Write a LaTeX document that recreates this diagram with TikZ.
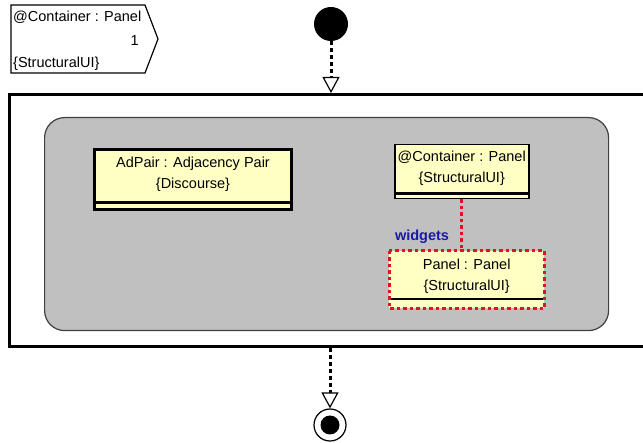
\documentclass[tikz,border=0pt]{standalone}
\usepackage{fontspec}
\setmainfont{Liberation Sans}
\usetikzlibrary{arrows.meta}
\definecolor{regiongrey}{HTML}{C0C0C0}
\definecolor{classyellow}{HTML}{FFFFC4}
\definecolor{linkred}{HTML}{E0141E}
\definecolor{roleblue}{HTML}{1A1AA6}
\tikzset{
  classbox/.style={draw=black, fill=classyellow, rectangle, inner sep=0pt},
  classtext/.style={align=center, inner sep=0pt, font=\fontsize{14.5}{21}\selectfont},
  flowline/.style={line width=3, dash pattern=on 4 off 3,
    -{Triangle[open, length=16, width=17, line width=1.2, fill=white]}},
  reflink/.style={linkred, line width=3, dash pattern=on 3.5 off 3},
}
\begin{document}
\begin{tikzpicture}[x=1pt, y=-1pt, font=\fontsize{14.5}{21}\selectfont]
\useasboundingbox (0,0) rectangle (643,443);

% object pin of the activity parameter
\draw[line width=1.2, fill=white] (11,5) -- (145,5) -- (158,39) -- (145,73) -- (11,73) -- cycle;
\node[anchor=west, inner sep=0pt] (pinname) at (13,17) {@Container : Panel};
\node[anchor=east, inner sep=0pt] (pinmult) at (139,41) {1};
\node[anchor=west, inner sep=0pt] (pinstereo) at (13,64) {\{StructuralUI\}};

% activity frame, open to the right
\node[draw, line width=3, minimum width=700, minimum height=252, anchor=north west, inner sep=0pt]
  (frame) at (8,93) {};

% grey interaction region
\node[draw=black!75, line width=1.2, fill=regiongrey, rounded corners=20,
  minimum width=564, minimum height=213, anchor=north west, inner sep=0pt]
  (region) at (44,117) {};

% AdPair class instance
\node[classbox, line width=3, minimum width=197, minimum height=60, anchor=north west]
  (adpair) at (93,148) {};
\draw[line width=3] ([yshift=8]adpair.south west) -- ([yshift=8]adpair.south east);
\node[classtext] (adpairtext) at ([yshift=-26]adpair.north)
  {AdPair : Adjacency Pair\\\{Discourse\}};

% container panel
\node[classbox, line width=1.5, minimum width=134, minimum height=54, anchor=north west]
  (container) at (394,144) {};
\draw[line width=2.5] ([yshift=6]container.south west) -- ([yshift=6]container.south east);
\node[classtext] (containertext) at ([yshift=-24]container.north)
  {@Container : Panel\\\{StructuralUI\}};

% nested panel
\node[classbox, draw=none, minimum width=155, minimum height=57, anchor=north west]
  (panel) at (389,251) {};
\draw[line width=2] ([yshift=9]panel.south west) -- ([yshift=9]panel.south east);
\draw[reflink] (panel.north west) rectangle (panel.south east);
\node[classtext] (paneltext) at ([yshift=-25]panel.north)
  {Panel : Panel\\\{StructuralUI\}};

% widgets link
\draw[reflink] (container.south) -- (container.south |- panel.north);
\node[text=roleblue, font=\fontsize{14.5}{16}\selectfont\bfseries, inner sep=0pt]
  (widgets) at (422,237) {widgets};

% initial and final nodes
\node[circle, fill=black, minimum size=34, inner sep=0pt] (start) at (331,24) {};
\draw[flowline] (start.south) -- (start |- frame.north);

\node[circle, draw, line width=1.2, fill=white, minimum size=32, inner sep=0pt] (final) at (330,425) {};
\node[circle, fill=black, minimum size=19, inner sep=0pt] (finaldot) at (final) {};
\draw[flowline] (final |- frame.south) -- (final.north);
\end{tikzpicture}
\end{document}
